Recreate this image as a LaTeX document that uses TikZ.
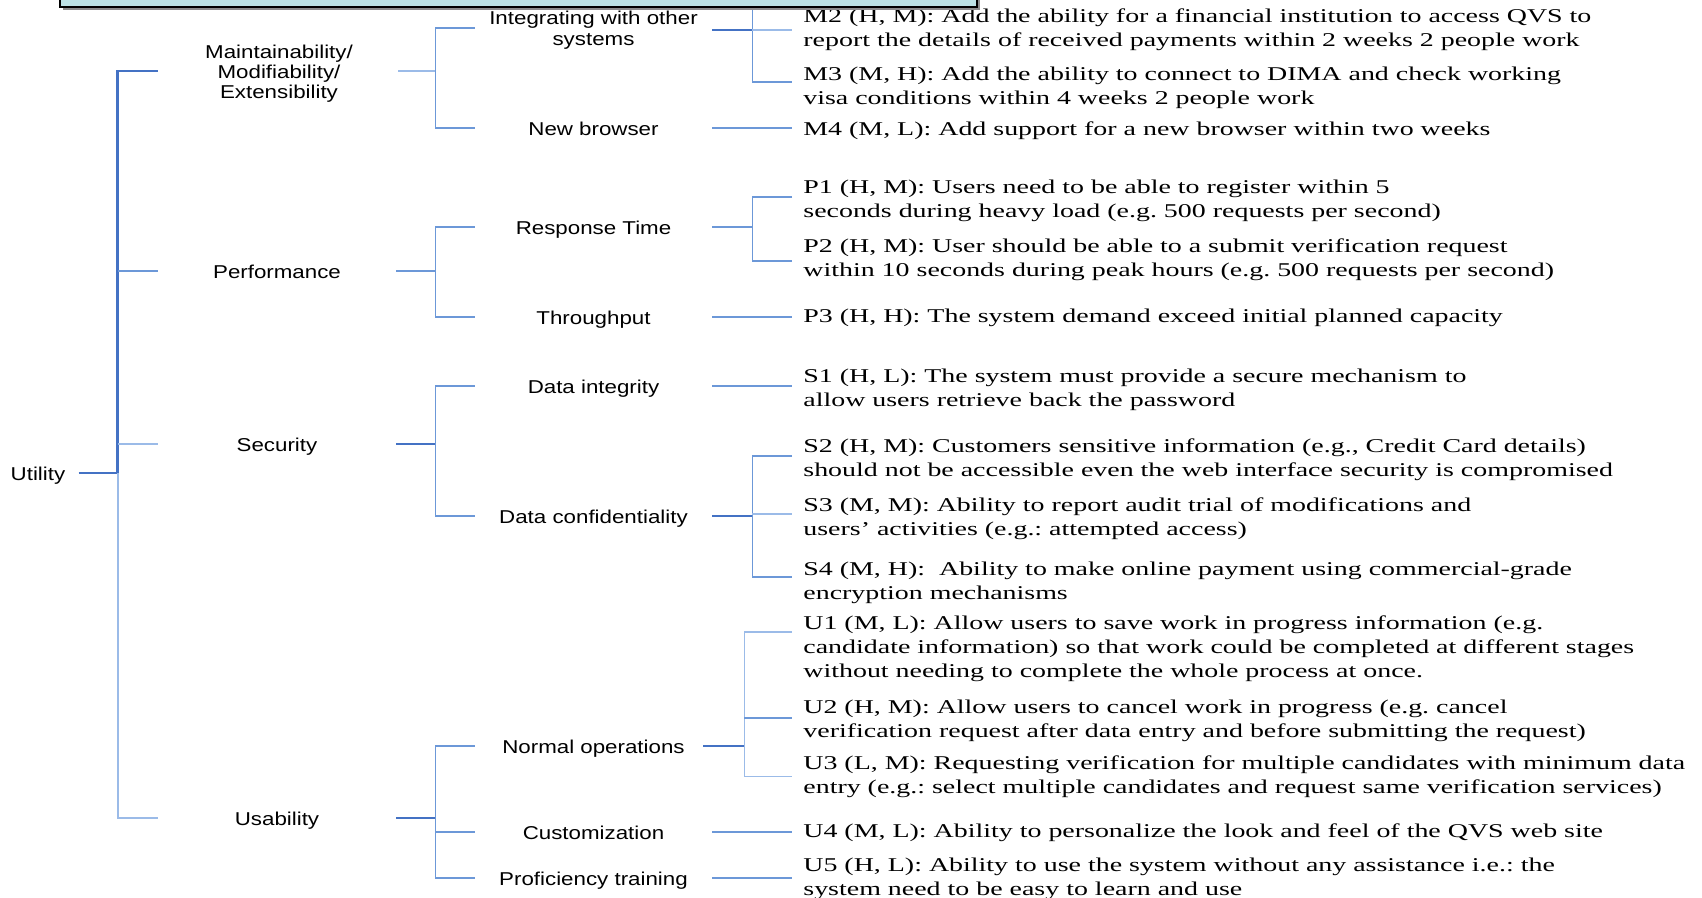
\documentclass[tikz,border=0pt]{standalone}
\usepackage{fontspec}
\setmainfont{Liberation Serif}[FakeStretch=1.432]
\newfontfamily\labelfont{Liberation Sans}[FakeStretch=1.2]
\usetikzlibrary{calc}
\definecolor{linkblue}{HTML}{6C98D8}
\definecolor{linklight}{HTML}{9BBBE8}
\definecolor{linkdark}{HTML}{4472C4}
\definecolor{boxfill}{HTML}{BCE2E5}
\frenchspacing
\begin{document}
\begin{tikzpicture}[x=0.5pt,y=-0.5pt,
  lnk/.style={draw=linkblue, line width=0.7pt},
  lnkl/.style={draw=linklight, line width=0.9pt},
  lnkb/.style={draw=linkdark, line width=1.2pt},
  sans/.style={font=\labelfont\fontsize{9.3}{10}\selectfont},
  oneline/.style={text height=0.716em, text depth=0pt},
  rootbox/.style={sans, oneline, inner xsep=6.5pt, inner ysep=0pt},
  attrbox/.style={sans, align=center, inner sep=0pt, minimum width=119pt},
  refinebox/.style={font=\labelfont\fontsize{9.3}{10.5}\selectfont, align=center, inner sep=0pt, minimum width=118.5pt},
  leaf/.style={font=\fontsize{9.75}{12}\selectfont, align=left, anchor=west, inner xsep=5.5pt, inner ysep=0pt}
]
\useasboundingbox (0,0) rectangle (1702,898);

% root and quality attributes
\node[rootbox] (root) at (38,473) {Utility};
\node[attrbox] (maint) at (279,74) {Maintainability/\\Modifiability/\\Extensibility};
\node[attrbox, oneline] (perf) at (277,271) {Performance};
\node[attrbox, oneline] (secu) at (277,444) {Security};
\node[attrbox, oneline] (usab) at (277,818) {Usability};

% refinements
\node[refinebox] (intg) at (593.5,30) {Integrating with other\\systems};
\node[refinebox, oneline] (newb) at (593.5,128) {New browser};
\node[refinebox, oneline] (resp) at (593.5,227) {Response Time};
\node[refinebox, oneline] (thru) at (593.5,317) {Throughput};
\node[refinebox, oneline] (dint) at (593.5,386) {Data integrity};
\node[refinebox, oneline] (dconf) at (593.5,516) {Data confidentiality};
\node[refinebox, oneline] (nops) at (593.5,746) {Normal operations};
\node[refinebox, oneline] (cust) at (593.5,832) {Customization};
\node[refinebox, oneline] (prof) at (593.5,878) {Proficiency training};

% scenarios
\node[leaf] (m2) at (792,30) {M2 (H, M): Add the ability for a financial institution to access QVS to\\report the details of received payments within 2 weeks 2 people work};
\node[leaf] (m3) at (792,88) {M3 (M, H): Add the ability to connect to DIMA and check working\\visa conditions within 4 weeks 2 people work};
\node[leaf] (m4) at (792,131) {M4 (M, L): Add support for a new browser within two weeks};
\node[leaf] (p1) at (792,201) {P1 (H, M): Users need to be able to register within 5\\seconds during heavy load (e.g. 500 requests per second)};
\node[leaf] (p2) at (792,259.5) {P2 (H, M): User should be able to a submit verification request\\within 10 seconds during peak hours (e.g. 500 requests per second)};
\node[leaf] (p3) at (792,318) {P3 (H, H): The system demand exceed initial planned capacity};
\node[leaf] (s1) at (792,390) {S1 (H, L): The system must provide a secure mechanism to\\allow users retrieve back the password};
\node[leaf] (s2) at (792,460) {S2 (H, M): Customers sensitive information (e.g., Credit Card details)\\should not be accessible even the web interface security is compromised};
\node[leaf] (s3) at (792,519) {S3 (M, M): Ability to report audit trial of modifications and\\users’ activities (e.g.: attempted access)};
\node[leaf] (s4) at (792,582.5) {S4 (M, H):\ \ Ability to make online payment using commercial-grade\\encryption mechanisms};
\node[leaf] (u1) at (792,649) {U1 (M, L): Allow users to save work in progress information (e.g.\\candidate information) so that work could be completed at different stages\\without needing to complete the whole process at once.};
\node[leaf] (u2) at (792,721) {U2 (H, M): Allow users to cancel work in progress (e.g. cancel\\verification request after data entry and before submitting the request)};
\node[leaf] (u3) at (792,776.5) {U3 (L, M): Requesting verification for multiple candidates with minimum data\\entry (e.g.: select multiple candidates and request same verification services)};
\node[leaf] (u4) at (792,833) {U4 (M, L): Ability to personalize the look and feel of the QVS web site};
\node[leaf] (u5) at (792,878.5) {U5 (H, L): Ability to use the system without any assistance i.e.: the\\system need to be easy to learn and use};

% junctions
\coordinate (jr) at ($(root.east)+(39,0)$);
\coordinate (ma) at ($(maint.west)+(0,-3)$);
\coordinate (mb) at ($(maint.east)+(0,-3)$);
\coordinate (jm) at ($(mb)+(37,0)$);
\coordinate (jp) at ($(perf.east)+(39,0)$);
\coordinate (js) at ($(secu.east)+(39,0)$);
\coordinate (ju) at ($(usab.east)+(39,0)$);
\coordinate (jmi) at ($(intg.east)+(40,0)$);
\coordinate (jmtop) at ($(jmi)+(0,-40)$);
\coordinate (jpr) at ($(resp.east)+(40,0)$);
\coordinate (jsc) at ($(dconf.east)+(40,0)$);
\coordinate (jun) at ($(nops.east)+(32,0)$);

% root to attributes
\draw[lnkb] (root.east) -- (jr);
\draw[lnkb] (jr) |- ($(ma)+(-2,0)$);
\draw[lnkl] (jr) |- (usab.west);
\draw[lnk] (perf.west) -- (jr |- perf.west);
\draw[lnkl] (secu.west) -- (jr |- secu.west);

% attributes to refinements
\draw[lnkl] (mb) -- (jm);
\draw[lnk] ([yshift=1pt]intg.west) -| (jm) |- (newb.west);
\draw[lnk] (perf.east) -- (jp);
\draw[lnk] (resp.west) -| (jp) |- (thru.west);
\draw[lnkb] (secu.east) -- (js);
\draw[lnk] (dint.west) -| (js) |- (dconf.west);
\draw[lnkb] (usab.east) -- (ju);
\draw[lnk] (nops.west) -| (ju) |- (prof.west);
\draw[lnk] (cust.west) -- (ju |- cust.west);

% refinements to scenarios
\draw[lnkb] (intg.east) -- (jmi);
\draw[lnk] (jmtop) |- ([yshift=3pt]m3.west);
\draw[lnkl] (jmi |- m2.west) -- (m2.west);
\draw[lnk] (newb.east) -- (newb.east -| m4.west);
\draw[lnk] (resp.east) -- (jpr);
\draw[lnk] ([yshift=2pt]p1.west) -| (jpr) |- ([yshift=-0.75pt]p2.west);
\draw[lnk] (thru.east) -- (thru.east -| p3.west);
\draw[lnk] (dint.east) -- (dint.east -| s1.west);
\draw[lnkb] (dconf.east) -- (jsc);
\draw[lnk] ([yshift=2pt]s2.west) -| (jsc) |- ([yshift=2.75pt]s4.west);
\draw[lnkl] (jsc |- s3.west) ++(0,-5) -- ([yshift=2.5pt]s3.west);
\draw[lnkb] ($(nops.east)+(-9,0)$) -- (jun);
\draw[lnkl] ([yshift=8.5pt]u1.west) -| (jun) |- (u3.west);
\draw[lnk] (jun |- u2.west) ++(0,-3) -- ([yshift=1.5pt]u2.west);
\draw[lnk] (cust.east) -- (cust.east -| u4.west);
\draw[lnk] (prof.east) -- (prof.east -| u5.west);

% title panel along the top edge
\fill[black!45] (63,-40) rectangle (980,10);
\draw[black, line width=1pt, fill=boxfill] (60,-40) rectangle (977,7);
\end{tikzpicture}
\end{document}
